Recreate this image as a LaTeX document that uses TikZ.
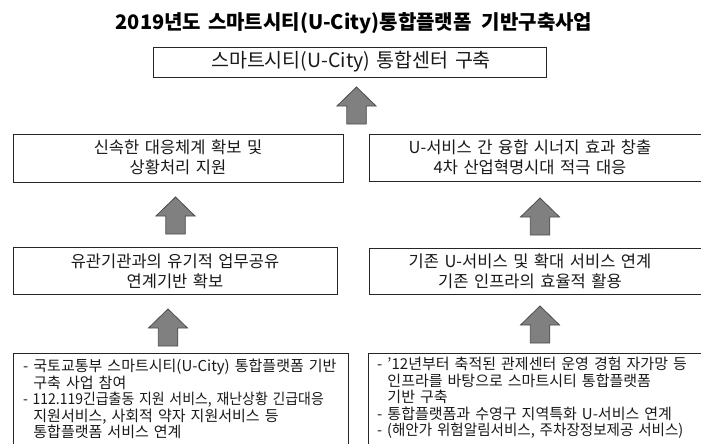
\documentclass[tikz,border=0pt]{standalone}
\usepackage{fontspec}
\setmainfont[WordSpace=1.5]{Noto Sans CJK KR}
\begin{document}
\begin{tikzpicture}[x=1pt,y=-1pt,
  box/.style={draw=black!85,line width=1pt,rectangle,inner sep=0pt,anchor=north west},
  txt/.style={font=\fontsize{16.5}{20}\selectfont,align=center,inner sep=0pt,text=black!90},
  listtxt/.style={font=\fontsize{15}{16.5}\selectfont,align=left,inner sep=0pt,anchor=north west,text=black!90},
  uparr/.pic={\draw[fill=black!50,draw=black!70,line width=0.8pt,line join=miter]
     (0,0) -- (19.5,19) -- (9.75,19) -- (9.75,37) -- (-9.75,37) -- (-9.75,19) -- (-19.5,19) -- cycle;}
]
\useasboundingbox (0,0) rectangle (701,444);

\node[font=\bfseries\fontsize{20}{22}\selectfont,inner sep=0pt] (title) at (354,23) {2019년도 스마트시티(U-City)통합플랫폼 \,기반구축사업};

% top
\node[box,minimum width=393pt,minimum height=30pt] (top) at (153,47) {};
\node[txt,font=\fontsize{19.5}{20}\selectfont] (toptxt) at (351,62) {스마트시티(U-City) 통합센터 구축};

% middle row 1
\node[box,minimum width=330pt,minimum height=48pt] (m1l) at (13,134) {};
\node[txt] (m1ltxt) at (178,157) {신속한 대응체계 확보 및\\상황처리 지원};
\node[box,minimum width=335pt,minimum height=47pt] (m1r) at (369,134) {};
\node[txt] (m1rtxt) at (530,157) {U-서비스 간 융합 시너지 효과 창출\\4차 산업혁명시대 적극 대응};

% middle row 2
\node[box,minimum width=324pt,minimum height=47pt] (m2l) at (13,247) {};
\node[txt] (m2ltxt) at (175,271) {유관기관과의 유기적 업무공유\\연계기반 확보};
\node[box,minimum width=335pt,minimum height=46pt] (m2r) at (369,248) {};
\node[txt] (m2rtxt) at (530,271) {기존 U-서비스 및 확대 서비스 연계\\기존 인프라의 효율적 활용};

% bottom row
\node[box,minimum width=335pt,minimum height=110pt] (bl) at (13,353) {};
\node[listtxt] (bltxt) at (23,359) {- 국토교통부 스마트시티(U-City) 통합플랫폼 기반\\
\phantom{- }구축 사업 참여\\
\scalebox{0.93}[1]{- 112.119긴급출동 지원 서비스, 재난상황 긴급대응}\\
\phantom{- }지원서비스, 사회적 약자 지원서비스 등\\
\phantom{- }통합플랫폼 서비스 연계};
\node[box,minimum width=336pt,minimum height=110pt] (br) at (368,353) {};
\node[listtxt] (brtxt) at (377,357) {- ’12년부터 축적된 관제센터 운영 경험 자가망 등\\
\phantom{- }인프라를 바탕으로 스마트시티 통합플랫폼\\
\phantom{- }기반 구축\\
- 통합플랫폼과 수영구 지역특화 U-서비스 연계\\
\scalebox{0.97}[1]{- (해안가 위험알림서비스, 주차장정보제공 서비스)}};

% block arrows
\pic at (356.5,87) {uparr};
\pic at (175.5,197) {uparr};
\pic at (540,198) {uparr};
\pic at (168,309) {uparr};
\pic at (540,306) {uparr};
\end{tikzpicture}
\end{document}
